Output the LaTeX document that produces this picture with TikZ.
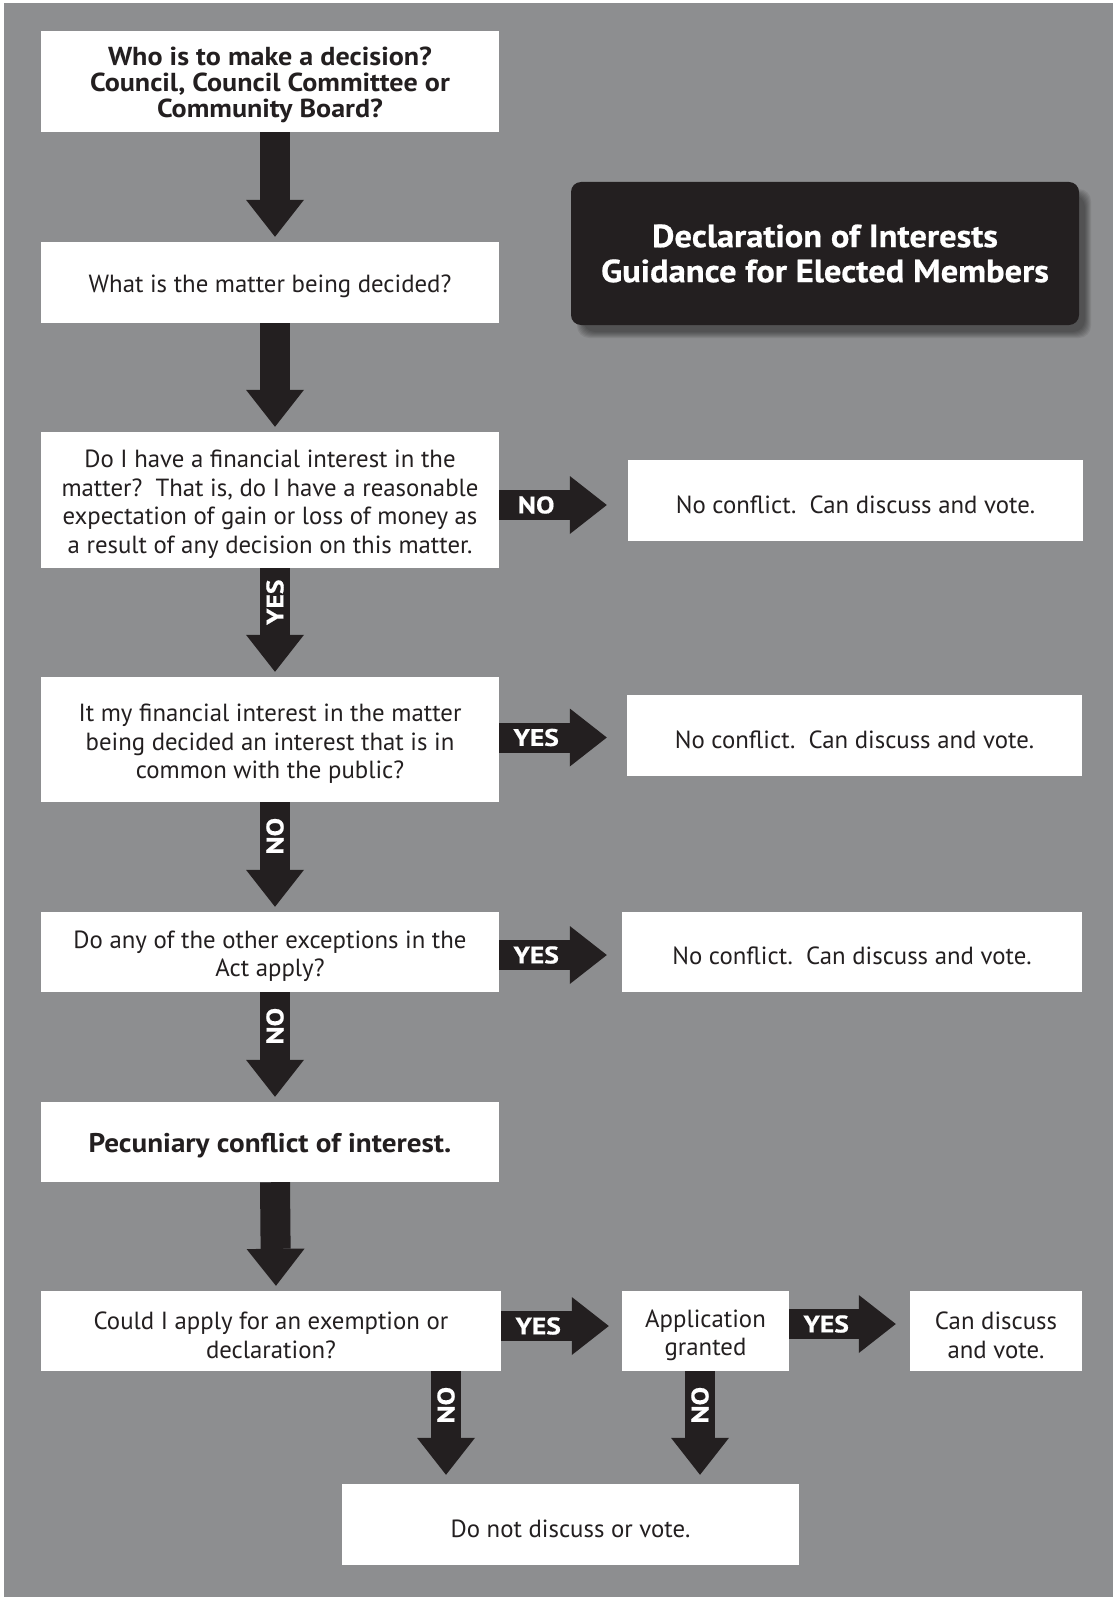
\documentclass[tikz,border=0pt]{standalone}
\usepackage{fontspec}
\setmainfont{PT Sans}
\newfontfamily\boldwide[FakeStretch=1.08]{PT Sans Bold}
\newfontfamily\titlefont[FakeStretch=1.08, FakeBold=0.6]{PT Sans Bold}
\newfontfamily\lblfont[FakeStretch=1.15, FakeBold=0.6]{PT Sans Bold}
\newcommand\lowstrut{\rule{0pt}{26pt}}
\usetikzlibrary{arrows.meta,calc}
\definecolor{bg}{RGB}{141,142,144}
\definecolor{ink}{RGB}{35,31,32}
\begin{document}
\begin{tikzpicture}[x=1pt,y=-1pt,
  box/.style={fill=white, draw=none, text=ink, align=center, inner sep=0pt,
    font=\fontsize{24.8}{28.5}\selectfont},
  boldbox/.style={box, font=\boldwide\fontsize{26}{26}\selectfont},
  blk/.style={line width=30pt, draw=ink,
    -{Triangle[width=58pt,length=37pt,line width=0pt]}},
  lbl/.style={text=white, inner sep=0pt, font=\lblfont\fontsize{24}{24}\selectfont},
  vlbl/.style={lbl, rotate=90},
  title/.style={fill=ink, rounded corners=10pt, text=white, align=center,
    inner sep=0pt, font=\titlefont\fontsize{32}{35}\selectfont}]
\fill[white] (0,0) rectangle (1113,1597);
\fill[bg] (4,3) rectangle (1113,1597);
\useasboundingbox (0,0) rectangle (1113,1597);

% boxes
\node[boldbox, minimum width=458pt, minimum height=101pt] (b1) at (270,81.5)
  {\lowstrut Who is to make a decision?\\Council, Council Committee or\\Community Board?};
\node[box, minimum width=458pt, minimum height=81pt] (b2) at (270,282.5)
  {\lowstrut What is the matter being decided?};
\node[box, minimum width=458pt, minimum height=136pt] (b3) at (270,500)
  {\lowstrut Do I have a financial interest in the\\matter?\ \ That is, do I have a reasonable\\expectation of gain or loss of money as\\a result of any decision on this matter.};
\node[box, minimum width=455pt, minimum height=81pt] (r1) at (855.5,500.5)
  {\lowstrut No conflict.\ \ Can discuss and vote.};
\node[box, minimum width=458pt, minimum height=125pt] (b4) at (270,739.5)
  {\lowstrut It my financial interest in the matter\\being decided an interest that is in\\common with the public?};
\node[box, minimum width=455pt, minimum height=81pt] (r2) at (854.5,735.5)
  {\lowstrut No conflict.\ \ Can discuss and vote.};
\node[box, minimum width=458pt, minimum height=80pt] (b5) at (270,952)
  {\lowstrut Do any of the other exceptions in the\\Act apply?};
\node[box, minimum width=460pt, minimum height=80pt] (r3) at (852,952)
  {\lowstrut No conflict.\ \ Can discuss and vote.};
\node[box, font=\boldwide\fontsize{27}{27}\selectfont, minimum width=458pt, minimum height=80pt] (b6) at (270,1142)
  {\lowstrut Pecuniary conflict of interest.};
\node[box, minimum width=460pt, minimum height=80pt] (b7) at (271,1331)
  {\lowstrut Could I apply for an exemption or\\declaration?};
\node[box, minimum width=167pt, minimum height=80pt] (b8) at (705.5,1331)
  {\lowstrut Application\\granted};
\node[box, minimum width=172pt, minimum height=80pt] (b9) at (996,1331)
  {\lowstrut Can discuss\\and vote.};
\node[box, minimum width=457pt, minimum height=81pt] (b10) at (570.5,1524.5)
  {\lowstrut Do not discuss or vote.};

% title with soft shadow
\coordinate (tnw) at (571,181);
\coordinate (tse) at (1079,324);
\foreach \e in {0,1,...,6}{
  \fill[black, opacity=0.07, rounded corners=12pt]
    ($(tnw)+(9-\e+3,11-\e+3)$) rectangle ($(tse)+(9+\e-3,11+\e-3)$);
}
\node[title, minimum width=508pt, minimum height=143pt] (t) at (825,253.5)
  {Declaration of Interests\\Guidance for Elected Members};

% vertical arrows
\draw[blk, shorten >=5pt] ([xshift=5pt]b1.south) -- ([xshift=5pt]b2.north);
\draw[blk, shorten >=5pt] ([xshift=5pt]b2.south) -- ([xshift=5pt]b3.north);
\draw[blk, shorten >=5pt] ([xshift=5pt]b3.south) -- ([xshift=5pt]b4.north)
  node[vlbl] at ($([xshift=5pt]b3.south)+(0,34)$) {YES};
\draw[blk, shorten >=5pt] ([xshift=5pt]b4.south) -- ([xshift=5pt]b5.north)
  node[vlbl] at ($([xshift=5pt]b4.south)+(0,34)$) {NO};
\draw[blk, shorten >=5pt] ([xshift=5pt]b5.south) -- ([xshift=5pt]b6.north)
  node[vlbl] at ($([xshift=5pt]b5.south)+(0,34)$) {NO};
\draw[blk, shorten >=5pt] ([xshift=5pt]b6.south) -- ([xshift=5pt]b7.north);

\coordinate (n1) at ($(b7.south)+(175,0)$);
\draw[blk, shorten >=9pt] (n1) -- (n1 |- b10.north)
  node[vlbl] at ($(n1)+(0,34)$) {NO};
\coordinate (n2) at ($(b8.south)+(-5.5,0)$);
\draw[blk, shorten >=9pt] (n2) -- (n2 |- b10.north)
  node[vlbl] at ($(n2)+(0,34)$) {NO};

% horizontal arrows
\coordinate (h1) at ($(b3.east)+(0,5)$);
\draw[blk, shorten >=21pt] (h1) -- (h1 -| r1.west)
  node[lbl] at ($(h1)+(37,0)$) {NO};
\coordinate (h2) at ($(b4.east)+(0,-2)$);
\draw[blk, shorten >=20pt] (h2) -- (h2 -| r2.west)
  node[lbl] at ($(h2)+(37,0)$) {YES};
\coordinate (h3) at ($(b5.east)+(0,3)$);
\draw[blk, shorten >=15pt] (h3) -- (h3 -| r3.west)
  node[lbl] at ($(h3)+(37,0)$) {YES};
\coordinate (h4) at ($(b7.east)+(0,-5)$);
\draw[blk, shorten >=13pt] (h4) -- (h4 -| b8.west)
  node[lbl] at ($(h4)+(37,0)$) {YES};
\coordinate (h5) at ($(b8.east)+(0,-7)$);
\draw[blk, shorten >=14pt] (h5) -- (h5 -| b9.west)
  node[lbl] at ($(h5)+(37,0)$) {YES};
\end{tikzpicture}
\end{document}
